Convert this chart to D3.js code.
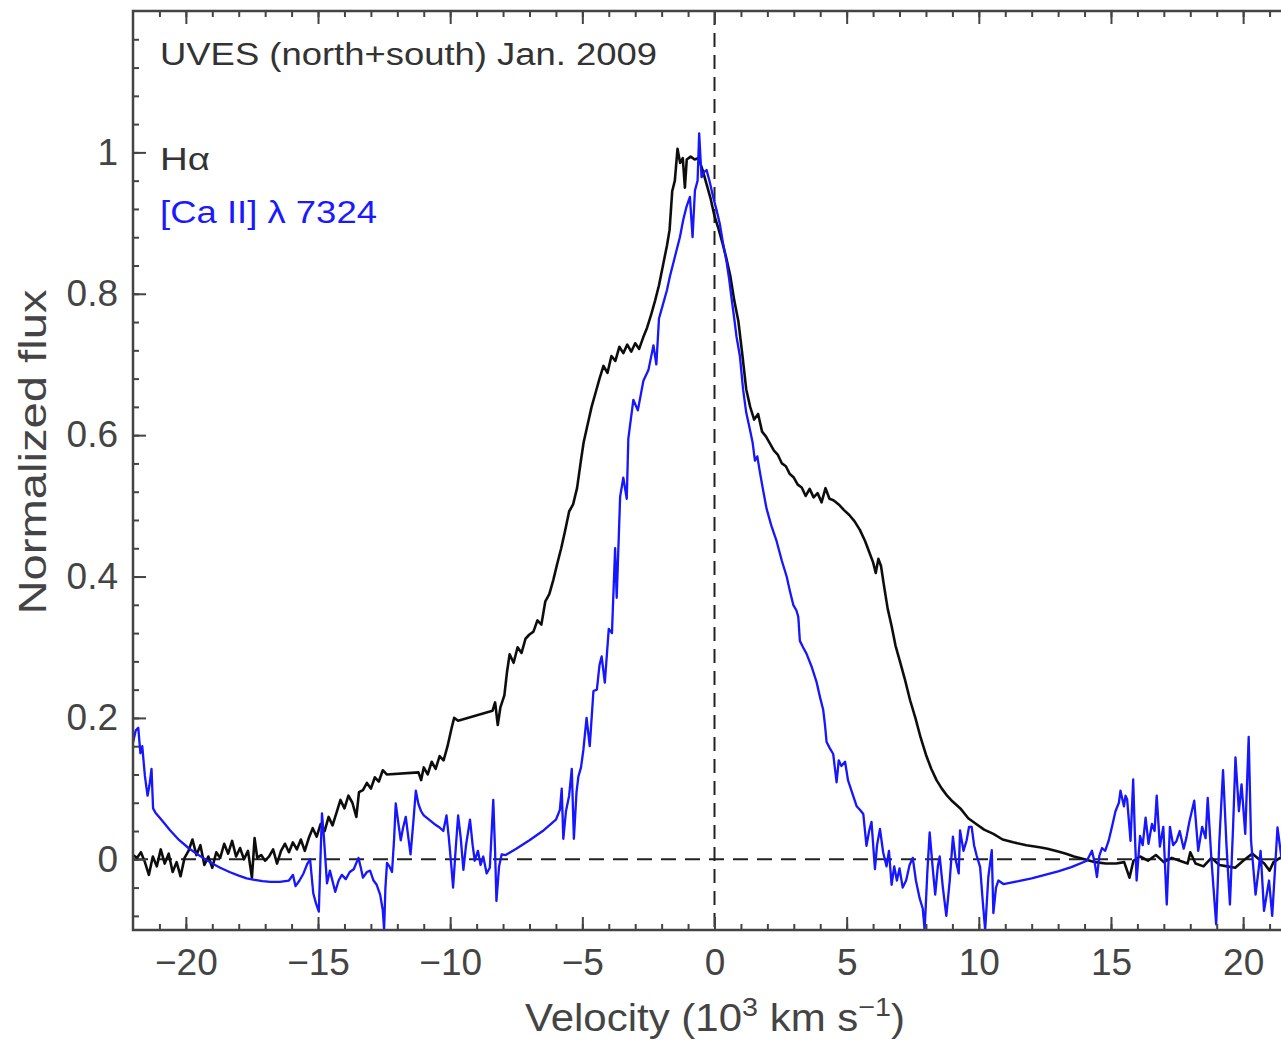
<!DOCTYPE html>
<html>
<head>
<meta charset="utf-8">
<script src="https://cdn.jsdelivr.net/npm/d3@7"></script>
<style>
  body { margin: 0; background: #fff; }
  text { font-family: "Liberation Sans", Arial, Helvetica, sans-serif; }
</style>
</head>
<body>
<div id="chart"></div>
<script>
// velocity in 10^3 km/s, normalized flux
const halpha = [
  [-22.0, 0.006], [-21.85, 0.002], [-21.7, 0.010], [-21.55, -0.004], [-21.4, -0.022], [-21.25, 0.004],
  [-21.1, -0.010], [-20.95, 0.014], [-20.8, -0.006], [-20.65, 0.008], [-20.5, -0.018], [-20.35, -0.004],
  [-20.2, -0.024], [-20.05, 0.002], [-19.9, 0.012], [-19.75, 0.028], [-19.6, 0.006], [-19.45, 0.020],
  [-19.3, -0.008], [-19.15, 0.004], [-19.0, -0.012], [-18.85, 0.010], [-18.7, 0.002], [-18.55, 0.022],
  [-18.4, 0.008], [-18.25, 0.026], [-18.1, 0.004], [-17.95, 0.016], [-17.8, 0.000], [-17.65, 0.012],
  [-17.5, -0.026], [-17.4, 0.030], [-17.3, 0.002], [-17.15, 0.006], [-17.0, -0.002], [-16.85, 0.004],
  [-16.7, 0.014], [-16.55, -0.006], [-16.4, 0.012], [-16.25, 0.022], [-16.1, 0.010], [-15.95, 0.024],
  [-15.8, 0.014], [-15.65, 0.028], [-15.5, 0.012], [-15.35, 0.030], [-15.2, 0.044], [-15.05, 0.032],
  [-14.9, 0.050], [-14.75, 0.040], [-14.6, 0.060], [-14.45, 0.048], [-14.3, 0.066], [-14.15, 0.084],
  [-14.0, 0.072], [-13.85, 0.090], [-13.7, 0.080], [-13.55, 0.060], [-13.45, 0.095], [-13.3, 0.098],
  [-13.15, 0.108], [-13.0, 0.100], [-12.85, 0.116], [-12.7, 0.110], [-12.55, 0.126], [-12.4, 0.120],
  [-11.2, 0.123], [-11.1, 0.112], [-11.0, 0.130], [-10.85, 0.120], [-10.7, 0.138], [-10.55, 0.128],
  [-10.4, 0.146], [-10.25, 0.140], [-10.1, 0.160], [-9.95, 0.185], [-9.85, 0.200], [-9.7, 0.196],
  [-8.4, 0.210], [-8.3, 0.222], [-8.2, 0.190], [-8.1, 0.215], [-7.95, 0.232], [-7.85, 0.265],
  [-7.75, 0.290], [-7.6, 0.278], [-7.45, 0.300], [-7.3, 0.292], [-7.15, 0.312], [-7.0, 0.318],
  [-6.85, 0.322], [-6.7, 0.338], [-6.55, 0.332], [-6.4, 0.365], [-6.25, 0.375], [-6.1, 0.395],
  [-5.95, 0.418], [-5.8, 0.440], [-5.65, 0.465], [-5.5, 0.492], [-5.35, 0.502], [-5.2, 0.525],
  [-5.05, 0.565], [-4.95, 0.590], [-4.8, 0.615], [-4.65, 0.640], [-4.5, 0.660], [-4.35, 0.680],
  [-4.2, 0.698], [-4.05, 0.688], [-3.9, 0.712], [-3.75, 0.705], [-3.6, 0.725], [-3.45, 0.716],
  [-3.3, 0.728], [-3.15, 0.718], [-3.0, 0.730], [-2.85, 0.722], [-2.7, 0.738], [-2.55, 0.752],
  [-2.4, 0.770], [-2.25, 0.790], [-2.1, 0.812], [-1.95, 0.840], [-1.8, 0.868], [-1.7, 0.890],
  [-1.6, 0.945], [-1.5, 0.960], [-1.4, 1.005], [-1.3, 0.985], [-1.2, 0.992], [-1.12, 0.950],
  [-1.05, 0.990], [-0.9, 0.994], [-0.75, 0.990], [-0.6, 0.992], [-0.45, 0.975], [-0.3, 0.955],
  [-0.15, 0.935], [0.0, 0.910], [0.15, 0.892], [0.3, 0.872], [0.45, 0.850], [0.6, 0.825],
  [0.75, 0.790], [0.9, 0.762], [1.05, 0.715], [1.2, 0.665], [1.35, 0.640], [1.5, 0.622],
  [1.65, 0.630], [1.8, 0.605], [1.95, 0.598], [2.1, 0.588], [2.25, 0.578], [2.4, 0.572],
  [2.55, 0.560], [2.7, 0.556], [2.85, 0.545], [3.0, 0.540], [3.15, 0.530], [3.3, 0.526],
  [3.45, 0.514], [3.6, 0.524], [3.75, 0.512], [3.9, 0.518], [4.05, 0.505], [4.2, 0.525],
  [4.35, 0.510], [4.5, 0.508], [4.7, 0.502], [4.9, 0.494], [5.1, 0.487], [5.3, 0.478],
  [5.5, 0.466], [5.7, 0.450], [5.85, 0.435], [6.0, 0.420], [6.1, 0.405], [6.2, 0.425],
  [6.3, 0.415], [6.4, 0.390], [6.55, 0.355], [6.7, 0.330], [6.85, 0.302], [7.0, 0.282],
  [7.2, 0.255], [7.4, 0.225], [7.6, 0.200], [7.8, 0.172], [8.0, 0.148], [8.2, 0.128],
  [8.4, 0.112], [8.6, 0.100], [8.8, 0.090], [9.0, 0.082], [9.3, 0.072], [9.6, 0.058],
  [9.9, 0.050], [10.2, 0.042], [10.55, 0.036], [10.9, 0.028], [11.3, 0.024], [11.8, 0.020],
  [12.3, 0.017], [12.6, 0.015], [13.0, 0.011], [13.3, 0.008], [13.6, 0.004], [14.0, 0.000],
  [14.4, -0.004], [14.8, -0.006], [15.2, -0.006], [15.5, -0.004], [15.7, -0.026], [15.85, -0.002],
  [16.1, 0.004], [16.4, -0.002], [16.7, 0.006], [17.0, -0.004], [17.3, 0.002], [17.6, -0.002],
  [17.9, -0.006], [18.0, 0.010], [18.2, -0.006], [18.5, -0.010], [18.8, 0.002], [19.1, -0.008],
  [19.4, -0.010], [19.7, -0.012], [20.0, -0.002], [20.35, 0.008], [20.6, 0.000], [20.8, -0.006],
  [21.0, -0.016], [21.15, -0.004], [21.4, 0.002], [21.6, 0.000]
];

const caII = [
  [-22.0, 0.165], [-21.9, 0.182], [-21.8, 0.186], [-21.72, 0.150], [-21.65, 0.160], [-21.55, 0.118],
  [-21.45, 0.090], [-21.38, 0.104], [-21.3, 0.128], [-21.24, 0.072], [-21.15, 0.066], [-20.9, 0.055],
  [-20.6, 0.041], [-20.25, 0.027], [-19.9, 0.016], [-19.6, 0.008], [-19.3, 0.001], [-19.0, -0.006],
  [-18.7, -0.012], [-18.35, -0.018], [-18.0, -0.023], [-17.7, -0.027], [-17.4, -0.029], [-17.1, -0.031],
  [-16.8, -0.032], [-16.45, -0.032], [-16.1, -0.030], [-15.95, -0.022], [-15.85, -0.038], [-15.7, -0.030],
  [-15.55, -0.020], [-15.4, -0.006], [-15.3, 0.000], [-15.18, -0.048], [-15.08, -0.062], [-14.97, -0.074],
  [-14.9, 0.010], [-14.85, 0.065], [-14.78, 0.032], [-14.66, -0.034], [-14.55, -0.016], [-14.47, -0.028],
  [-14.35, -0.046], [-14.22, -0.030], [-14.1, -0.022], [-13.95, -0.028], [-13.8, -0.018], [-13.65, -0.014],
  [-13.47, 0.002], [-13.38, -0.012], [-13.3, -0.026], [-13.15, -0.018], [-13.03, -0.016], [-12.9, -0.030],
  [-12.78, -0.036], [-12.65, -0.050], [-12.55, -0.072], [-12.5, -0.100], [-12.45, -0.040], [-12.39, -0.005],
  [-12.3, -0.010], [-12.2, -0.018], [-12.12, 0.030], [-12.06, 0.079], [-11.95, 0.048], [-11.87, 0.027],
  [-11.78, 0.045], [-11.68, 0.060], [-11.58, 0.030], [-11.5, 0.007], [-11.4, 0.050], [-11.3, 0.097],
  [-11.2, 0.078], [-11.1, 0.068], [-11.0, 0.062], [-10.8, 0.056], [-10.6, 0.050], [-10.4, 0.045],
  [-10.26, 0.040], [-10.14, 0.062], [-10.05, 0.030], [-9.95, -0.012], [-9.89, -0.040], [-9.8, 0.010],
  [-9.7, 0.062], [-9.6, 0.030], [-9.5, -0.015], [-9.4, 0.020], [-9.25, 0.056], [-9.15, 0.020],
  [-9.07, -0.002], [-8.95, 0.012], [-8.85, -0.008], [-8.75, 0.004], [-8.62, -0.020], [-8.5, -0.012],
  [-8.37, 0.084], [-8.3, 0.010], [-8.25, -0.059], [-8.15, -0.010], [-8.05, 0.007], [-7.9, 0.006],
  [-7.5, 0.015], [-7.0, 0.027], [-6.5, 0.040], [-6.0, 0.056], [-5.85, 0.070], [-5.78, 0.100],
  [-5.72, 0.029], [-5.62, 0.068], [-5.5, 0.090], [-5.4, 0.128], [-5.32, 0.029], [-5.22, 0.095],
  [-5.15, 0.117], [-5.05, 0.130], [-4.96, 0.155], [-4.84, 0.200], [-4.72, 0.160], [-4.58, 0.238],
  [-4.45, 0.240], [-4.35, 0.275], [-4.27, 0.287], [-4.15, 0.250], [-4.0, 0.326], [-3.88, 0.320],
  [-3.76, 0.440], [-3.7, 0.370], [-3.57, 0.513], [-3.45, 0.540], [-3.32, 0.510], [-3.26, 0.595],
  [-3.07, 0.650], [-2.9, 0.635], [-2.69, 0.677], [-2.5, 0.692], [-2.31, 0.727], [-2.2, 0.700],
  [-2.1, 0.765], [-1.95, 0.785], [-1.8, 0.805], [-1.69, 0.824], [-1.5, 0.852], [-1.31, 0.880],
  [-1.18, 0.905], [-1.06, 0.923], [-0.93, 0.937], [-0.83, 0.880], [-0.74, 0.946], [-0.64, 0.960],
  [-0.58, 1.027], [-0.52, 0.985], [-0.49, 0.965], [-0.4, 0.972], [-0.3, 0.975], [-0.18, 0.958],
  [-0.05, 0.937], [0.08, 0.918], [0.2, 0.899], [0.32, 0.872], [0.45, 0.847], [0.55, 0.822],
  [0.64, 0.795], [0.73, 0.770], [0.83, 0.740], [0.96, 0.712], [1.08, 0.665], [1.2, 0.632],
  [1.34, 0.608], [1.44, 0.590], [1.53, 0.564], [1.62, 0.570], [1.72, 0.547], [1.85, 0.520],
  [1.97, 0.496], [2.15, 0.472], [2.35, 0.450], [2.55, 0.422], [2.73, 0.400], [2.85, 0.380],
  [2.98, 0.360], [3.1, 0.352], [3.17, 0.343], [3.23, 0.309], [3.35, 0.300], [3.48, 0.291],
  [3.68, 0.272], [3.86, 0.251], [4.0, 0.228], [4.11, 0.212], [4.18, 0.190], [4.24, 0.166],
  [4.35, 0.158], [4.49, 0.149], [4.62, 0.109], [4.7, 0.140], [4.8, 0.132], [4.94, 0.138],
  [5.05, 0.112], [5.2, 0.095], [5.38, 0.075], [5.5, 0.070], [5.63, 0.064], [5.75, 0.019],
  [5.85, 0.040], [5.94, 0.053], [6.07, -0.014], [6.15, 0.020], [6.26, 0.043], [6.38, 0.010],
  [6.51, -0.010], [6.6, 0.012], [6.7, -0.036], [6.8, -0.010], [6.9, -0.030], [7.0, -0.013],
  [7.12, -0.040], [7.25, -0.030], [7.38, -0.008], [7.5, 0.002], [7.62, -0.030], [7.76, -0.055],
  [7.88, -0.070], [7.95, -0.100], [8.05, -0.020], [8.14, 0.038], [8.25, -0.010], [8.35, -0.050],
  [8.45, -0.010], [8.52, 0.004], [8.64, -0.040], [8.77, -0.080], [8.9, -0.030], [9.02, 0.032],
  [9.12, 0.000], [9.24, -0.020], [9.29, 0.041], [9.42, 0.012], [9.54, 0.027], [9.63, 0.046],
  [9.73, 0.046], [9.82, 0.020], [9.92, 0.005], [10.05, -0.011], [10.15, -0.060], [10.24, -0.100],
  [10.36, -0.025], [10.49, 0.013], [10.55, -0.076], [10.65, -0.040], [10.74, -0.030], [10.93, -0.035],
  [11.5, -0.031], [12.0, -0.027], [12.5, -0.022], [13.0, -0.017], [13.5, -0.011], [14.09, -0.002],
  [14.28, 0.012], [14.38, -0.004], [14.47, -0.025], [14.56, 0.005], [14.66, 0.016], [14.78, 0.012],
  [14.91, 0.026], [15.05, 0.048], [15.17, 0.068], [15.3, 0.080], [15.36, 0.097], [15.49, 0.075],
  [15.55, 0.090], [15.61, 0.085], [15.74, 0.026], [15.84, 0.113], [15.9, 0.040], [15.97, -0.030],
  [16.1, 0.033], [16.2, 0.020], [16.31, 0.059], [16.42, 0.022], [16.55, 0.050], [16.65, 0.040],
  [16.73, 0.090], [16.85, 0.018], [16.98, 0.046], [17.11, -0.064], [17.23, 0.046], [17.35, 0.020],
  [17.48, 0.026], [17.6, 0.040], [17.75, 0.015], [17.85, 0.030], [17.96, 0.052], [18.15, 0.083],
  [18.3, 0.012], [18.45, 0.046], [18.58, 0.030], [18.66, 0.087], [18.8, 0.000], [18.98, -0.092],
  [19.1, 0.026], [19.24, 0.126], [19.37, 0.020], [19.5, -0.064], [19.62, 0.046], [19.71, 0.144],
  [19.84, 0.068], [19.94, 0.106], [20.08, 0.036], [20.21, 0.173], [20.3, 0.026], [20.47, -0.050],
  [20.6, -0.010], [20.66, 0.012], [20.79, -0.073], [20.98, -0.030], [21.1, -0.080], [21.3, 0.045],
  [21.45, 0.002], [21.6, 0.030]
];

const xTickValues = [-20, -15, -10, -5, 0, 5, 10, 15, 20];
const yTickValues = [0, 0.2, 0.4, 0.6, 0.8, 1];

const width = 1281;
const height = 1040;
const plotLeft = 133, plotTop = 11, plotRight = 1296, plotBottom = 930;

const svg = d3.select('#chart')
  .append('svg')
  .attr('width', width)
  .attr('height', height);

const x = d3.scaleLinear().domain([-22, 22]).range([plotLeft, plotRight]);
const y = d3.scaleLinear().domain([-0.1, 1.2]).range([plotBottom, plotTop]);

const defs = svg.append('defs');
defs.append('clipPath').attr('id', 'plot-clip')
  .append('rect')
  .attr('x', plotLeft).attr('y', plotTop)
  .attr('width', plotRight - plotLeft).attr('height', plotBottom - plotTop);

// slight softening, the source spectra look blurred
defs.append('filter').attr('id', 'soft')
  .append('feGaussianBlur').attr('stdDeviation', 0.45);

const plot = svg.append('g').attr('clip-path', 'url(#plot-clip)');

// reference lines at zero
plot.append('line')
  .attr('x1', plotLeft).attr('x2', plotRight)
  .attr('y1', y(0)).attr('y2', y(0))
  .attr('stroke', '#222').attr('stroke-width', 2)
  .attr('stroke-dasharray', '15,9');

plot.append('line')
  .attr('x1', x(0)).attr('x2', x(0))
  .attr('y1', plotTop).attr('y2', plotBottom)
  .attr('stroke', '#222').attr('stroke-width', 2)
  .attr('stroke-dasharray', '14,8');

const line = d3.line()
  .x(d => x(d[0]))
  .y(d => y(d[1]));

plot.append('path')
  .datum(halpha)
  .attr('fill', 'none')
  .attr('stroke', '#111')
  .attr('stroke-width', 2.6)
  .attr('stroke-linejoin', 'round')
  .attr('filter', 'url(#soft)')
  .attr('d', line);

plot.append('path')
  .datum(caII)
  .attr('fill', 'none')
  .attr('stroke', '#1414ff')
  .attr('stroke-width', 2.3)
  .attr('stroke-linejoin', 'round')
  .attr('filter', 'url(#soft)')
  .attr('d', line);

// axes, ticks pointing inward
const axisColor = '#444';

function styleAxis(g) {
  g.select('.domain').remove();
  g.selectAll('line').attr('stroke', axisColor).attr('stroke-width', 2);
  g.selectAll('text').attr('fill', '#444').attr('font-size', 37);
}

const fmt = d => d3.format('~g')(d).replace('-', '\u2212');

svg.append('g')
  .attr('transform', `translate(0,${plotBottom})`)
  .call(d3.axisBottom(x).tickValues(xTickValues).tickSize(-13).tickPadding(19).tickFormat(fmt))
  .call(styleAxis);

svg.append('g')
  .attr('transform', `translate(0,${plotBottom})`)
  .call(d3.axisBottom(x).tickValues(d3.range(-21, 22, 1)).tickSize(-6).tickFormat(''))
  .call(styleAxis);

svg.append('g')
  .attr('transform', `translate(0,${plotTop})`)
  .call(d3.axisTop(x).tickValues(xTickValues).tickSize(-13).tickFormat(''))
  .call(styleAxis);

svg.append('g')
  .attr('transform', `translate(0,${plotTop})`)
  .call(d3.axisTop(x).tickValues(d3.range(-21, 22, 1)).tickSize(-6).tickFormat(''))
  .call(styleAxis);

svg.append('g')
  .attr('transform', `translate(${plotLeft},0)`)
  .call(d3.axisLeft(y).tickValues(yTickValues).tickSize(-13).tickPadding(15).tickFormat(fmt))
  .call(styleAxis);

svg.append('g')
  .attr('transform', `translate(${plotLeft},0)`)
  .call(d3.axisLeft(y).tickValues(d3.range(-0.08, 1.2, 0.04)).tickSize(-6).tickFormat(''))
  .call(styleAxis);

// frame
svg.append('rect')
  .attr('x', plotLeft).attr('y', plotTop)
  .attr('width', plotRight - plotLeft).attr('height', plotBottom - plotTop)
  .attr('fill', 'none')
  .attr('stroke', axisColor)
  .attr('stroke-width', 2.5);

// axis titles (the source figure is stretched, hence textLength)
svg.append('text')
  .attr('transform', `translate(46,452) rotate(-90)`)
  .attr('text-anchor', 'middle')
  .attr('font-size', 38)
  .attr('fill', '#444')
  .attr('textLength', 325)
  .attr('lengthAdjust', 'spacingAndGlyphs')
  .text('Normalized flux');

const xTitle = svg.append('text')
  .attr('x', 525)
  .attr('y', 1031)
  .attr('font-size', 38)
  .attr('fill', '#444')
  .attr('textLength', 380)
  .attr('lengthAdjust', 'spacingAndGlyphs');
xTitle.append('tspan').text('Velocity (10');
xTitle.append('tspan').attr('font-size', 26).attr('dy', -15).text('3');
xTitle.append('tspan').attr('dy', 15).text(' km s');
xTitle.append('tspan').attr('font-size', 26).attr('dy', -15).text('\u22121');
xTitle.append('tspan').attr('dy', 15).text(')');

// annotations
svg.append('text')
  .attr('x', 160).attr('y', 65)
  .attr('font-size', 31)
  .attr('fill', '#333')
  .attr('textLength', 497)
  .attr('lengthAdjust', 'spacingAndGlyphs')
  .text('UVES (north+south) Jan. 2009');

svg.append('text')
  .attr('x', 160).attr('y', 170)
  .attr('font-size', 31)
  .attr('fill', '#333')
  .attr('textLength', 50)
  .attr('lengthAdjust', 'spacingAndGlyphs')
  .text('H\u03b1');

svg.append('text')
  .attr('x', 160).attr('y', 223)
  .attr('font-size', 31)
  .attr('fill', '#1a1aff')
  .attr('textLength', 217)
  .attr('lengthAdjust', 'spacingAndGlyphs')
  .text('[Ca II] \u03bb 7324');
</script>
</body>
</html>
